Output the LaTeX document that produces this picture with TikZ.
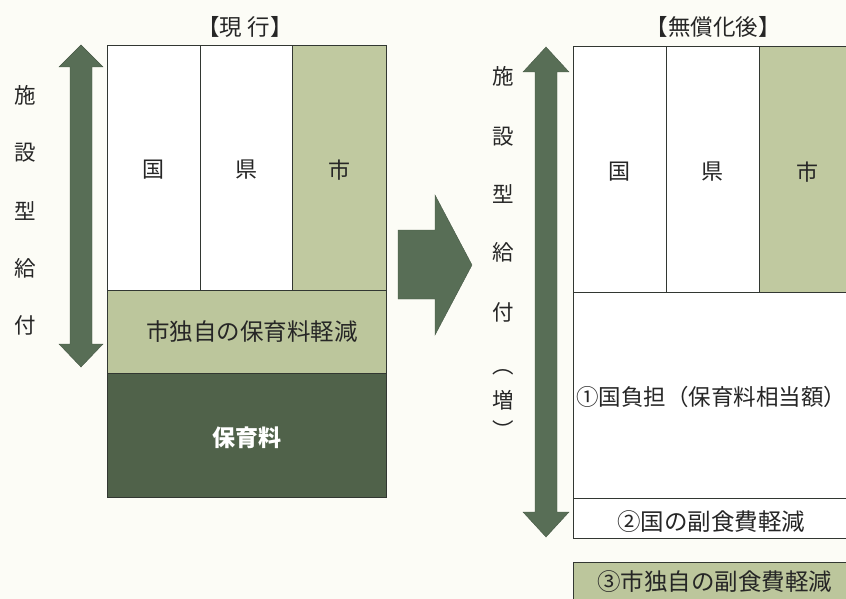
\documentclass[tikz,border=0pt]{standalone}
\usepackage{fontspec}
\setmainfont{Noto Sans CJK JP}
\definecolor{bgc}{RGB}{252,252,246}
\definecolor{arrowc}{RGB}{88,110,86}
\definecolor{darkc}{RGB}{80,98,74}
\definecolor{lightc}{RGB}{192,201,160}
\definecolor{bandc}{RGB}{188,198,156}
\definecolor{linec}{RGB}{50,55,50}
\tikzset{
  cell/.style={draw=linec, line width=1pt},
  blockarrow/.style={fill=arrowc, draw=arrowc!80!black, line width=0.4pt},
  lbl/.style={font=\fontsize{22pt}{22pt}\selectfont, text=black!85, inner sep=0pt},
  vlbl/.style={font=\fontsize{21.5pt}{22pt}\selectfont, text=black!85, inner sep=0pt},
  ttl/.style={font=\fontsize{22.5pt}{23pt}\selectfont, text=black!85, inner sep=0pt},
  big/.style={font=\fontsize{23.5pt}{24pt}\selectfont, text=black!85, inner sep=0pt}
}
\begin{document}
\begin{tikzpicture}[x=1pt,y=-1pt]
\useasboundingbox (0,0) rectangle (846,599);
\fill[bgc] (0,0) rectangle (846,599);
\begin{scope}
\clip (0,0) rectangle (846,599);

% ---------- left (current) ----------
\node[ttl] (t1) at (245,27) {【現\hspace{6pt}行】};
\draw[cell, fill=white] (107,46) rectangle (200,290);
\draw[cell, fill=white] (200,46) rectangle (292,290);
\draw[cell, fill=lightc] (292,46) rectangle (386,290);
\draw[cell, fill=bandc] (107,290) rectangle (386,373);
\draw[cell, fill=darkc] (107,373) rectangle (386,497);
\node[lbl] (k1) at (153,170) {国};
\node[lbl] (p1) at (246,170) {県};
\node[lbl] (c1) at (339,170) {市};
\node[big] (r1) at (252,332) {市独自の保育料軽減};
\node[big, text=white, font=\bfseries\fontsize{23pt}{24pt}\selectfont] (h1) at (247,438) {保育料};

% left double arrow
\fill[blockarrow] (81,45) -- (103,67) -- (92,67) -- (92,344) -- (103,344) -- (81,367)
  -- (59,344) -- (70,344) -- (70,67) -- (59,67) -- cycle;
\node[vlbl] (v1a) at (25,95) {施};
\node[vlbl] (v1b) at (25,153) {設};
\node[vlbl] (v1c) at (25,211) {型};
\node[vlbl] (v1d) at (25,268) {給};
\node[vlbl] (v1e) at (25,325) {付};

% middle arrow
\fill[blockarrow] (398,230) -- (435,230) -- (435,195) -- (472,265) -- (435,335)
  -- (435,299) -- (398,299) -- cycle;

% ---------- right (after) ----------
\node[ttl] (t2) at (713,27) {【無償化後】};
\draw[cell, fill=white] (573,47) rectangle (666,292);
\draw[cell, fill=white] (666,47) rectangle (759,292);
\draw[cell, fill=lightc] (759,47) rectangle (870,292);
\draw[cell, fill=white] (573,292) rectangle (870,498);
\draw[cell, fill=white] (573,498) rectangle (870,538);
\draw[cell, fill=bandc] (573,562) rectangle (870,620);
\node[lbl] (k2) at (619,172) {国};
\node[lbl] (p2) at (712,172) {県};
\node[lbl] (c2) at (807,172) {市};
\node[big, font=\fontsize{22.5pt}{23pt}\selectfont, anchor=west] (n1) at (576,397) {①国負担（保育料相当額）};
\node[big] (n2) at (711,522) {②国の副食費軽減};
\node[big, anchor=west] (n3) at (597,582) {③市独自の副食費軽減};

% right double arrow
\fill[blockarrow] (546,47) -- (569,72) -- (557,72) -- (557,512) -- (569,512) -- (546,537)
  -- (523,512) -- (535,512) -- (535,72) -- (523,72) -- cycle;
\node[vlbl] (v2a) at (503,76) {施};
\node[vlbl] (v2b) at (503,137) {設};
\node[vlbl] (v2c) at (503,194) {型};
\node[vlbl] (v2d) at (503,252) {給};
\node[vlbl] (v2e) at (503,312) {付};
\node[vlbl] (v2f) at (503,372) {︵};
\node[vlbl] (v2g) at (503,400) {増};
\node[vlbl] (v2h) at (503,430) {︶};
\end{scope}
\end{tikzpicture}
\end{document}
